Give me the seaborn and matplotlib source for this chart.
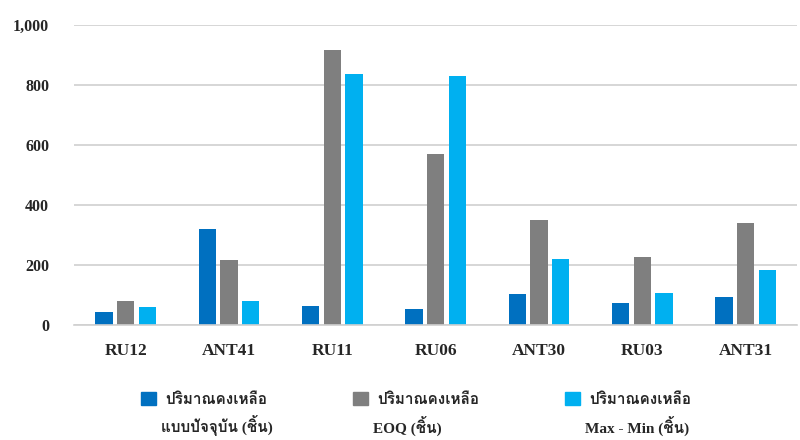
import pandas as pd
import seaborn as sns
import matplotlib.pyplot as plt
from matplotlib import font_manager
from matplotlib.ticker import FuncFormatter, MultipleLocator


items = ["RU12", "ANT41", "RU11", "RU06", "ANT30", "RU03", "ANT31"]
current_qty = [44, 319, 63, 53, 103, 74, 93]
eoq_qty = [80, 216, 917, 571, 352, 226, 339]
maxmin_qty = [59, 81, 837, 829, 219, 107, 183]

series_line1 = ["ปริมาณคงเหลือ", "ปริมาณคงเหลือ", "ปริมาณคงเหลือ"]
series_line2 = ["แบบปัจจุบัน (ชิ้น)", "EOQ (ชิ้น)", "Max - Min (ชิ้น)"]
colors = ["#0070C0", "#7F7F7F", "#00B0F0"]


def find_thai_font():
    """Return the name of an installed font that has Thai glyphs, if any."""
    try:
        from fontTools.ttLib import TTFont
    except ImportError:
        return None
    for f in font_manager.fontManager.ttflist:
        try:
            tt = TTFont(f.fname, fontNumber=0, lazy=True)
            cmap = tt.getBestCmap()
            if cmap and 0x0E1B in cmap and 0x0E34 in cmap:
                return f.name
        except Exception:
            continue
    return None


sns.set_style("white")
thai_font = find_thai_font()
serif = "Liberation Serif"
legend_family = [serif, thai_font] if thai_font else [serif, "DejaVu Sans"]
plt.rcParams["font.family"] = [serif, "DejaVu Sans"]

# long form table for seaborn
rows = []
for idx, vals in enumerate([current_qty, eoq_qty, maxmin_qty]):
    for item, v in zip(items, vals):
        rows.append({"item": item, "qty": v, "series": idx})
df = pd.DataFrame(rows)

fig = plt.figure(figsize=(8, 4.4), dpi=100)
ax = fig.add_axes([0.0925, 0.261, 0.904, 0.682])

sns.barplot(data=df, x="item", y="qty", hue="series", order=items,
            palette=colors, saturation=1, width=0.63, gap=0.2, ax=ax,
            legend=False, edgecolor="none", linewidth=0)

ax.set_ylim(0, 1000)
ax.yaxis.set_major_locator(MultipleLocator(200))
ax.yaxis.set_major_formatter(FuncFormatter(lambda v, p: f"{int(v):,}"))
ax.grid(axis="y", color="#D0D0D0", linewidth=1.2)
ax.set_axisbelow(True)
for s in ["top", "right", "left"]:
    ax.spines[s].set_visible(False)
ax.spines["bottom"].set_color("#D0D0D0")
ax.spines["bottom"].set_linewidth(1.2)
ax.set_xlabel("")
ax.set_ylabel("")
ax.tick_params(axis="y", length=0, pad=18, labelsize=11.5)
ax.tick_params(axis="x", length=0, pad=13, labelsize=12.5)
for lbl in ax.get_xticklabels() + ax.get_yticklabels():
    lbl.set_fontweight("bold")
ax.set_xlim(-0.5, len(items) - 0.5)

handles = [plt.Rectangle((0, 0), 1, 1, color=c) for c in colors]
leg = fig.legend(handles, series_line1, loc="center", ncol=3,
                 bbox_to_anchor=(0.52, 0.093), frameon=False,
                 prop={"family": legend_family, "size": 11, "weight": "bold"},
                 handlelength=1.0, handleheight=1.0, handletextpad=0.6,
                 columnspacing=5.6)

# second line of each legend label, placed under the first line
fig.canvas.draw()
renderer = fig.canvas.get_renderer()
inv = fig.transFigure.inverted()
for txt, line2 in zip(leg.get_texts(), series_line2):
    bb = txt.get_window_extent(renderer)
    x0, _ = inv.transform((bb.x0, bb.y0))
    fig.text(x0 - 0.005, 0.032, line2, ha="left", va="center",
             family=legend_family, fontsize=11, fontweight="bold")

fig.savefig("out.png", dpi=100)
